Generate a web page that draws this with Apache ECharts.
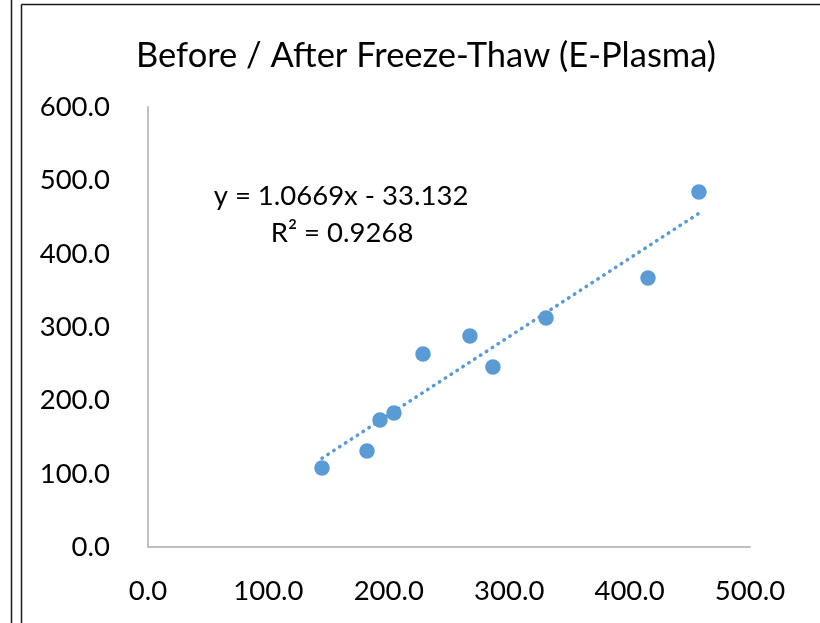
<!DOCTYPE html>
<html>
<head>
<meta charset="utf-8">
<script src="https://cdn.jsdelivr.net/npm/echarts@6/dist/echarts.min.js"></script>
<style>
html,body{margin:0;padding:0;background:#fff;}
#chart{width:820px;height:623px;}
</style>
</head>
<body>
<div id="chart"></div>
<script>
// Data
const titleText = 'Before / After Freeze-Thaw (E-Plasma)';
const beforeValues = [144.5, 181.9, 192.7, 204.3, 228.4, 267.4, 286.5, 330.6, 415.3, 457.6];
const afterValues  = [107.7, 130.9, 173.2, 182.7, 263.2, 287.7, 245.5, 312.3, 366.8, 484.1];
const trendSlope = 1.0669;
const trendIntercept = -33.132;
const equationLabel = 'y = 1.0669x - 33.132';
const r2Label = 'R² = 0.9268';
const xTicks = [0, 100, 200, 300, 400, 500];
const yTicks = [0, 100, 200, 300, 400, 500, 600];

const points = beforeValues.map((x, i) => [x, afterValues[i]]);
const xMin = Math.min(...beforeValues), xMax = Math.max(...beforeValues);
const trendPoints = [xMin, xMax].map(x => [x, trendSlope * x + trendIntercept]);

const FONT = 'Lato, "Open Sans", sans-serif';
const chart = echarts.init(document.getElementById('chart'), null, {renderer: 'canvas'});
chart.setOption({
  animation: false,
  backgroundColor: '#ffffff',
  title: {
    text: titleText,
    left: 421,
    top: 33,
    textAlign: 'center',
    textStyle: {fontFamily: FONT, fontSize: 34.5, fontWeight: 'normal', color: '#000'}
  },
  grid: {left: 148, top: 107, width: 602, height: 440, containLabel: false},
  xAxis: {
    type: 'value',
    min: xTicks[0], max: xTicks[xTicks.length - 1], interval: 100,
    splitLine: {show: false},
    axisTick: {show: false},
    axisLine: {show: true, onZero: false, lineStyle: {color: '#c0c0c0', width: 2}},
    axisLabel: {fontFamily: FONT, fontSize: 27.5, color: '#000', margin: 30,
      formatter: v => v.toFixed(1)}
  },
  yAxis: {
    type: 'value',
    min: yTicks[0], max: yTicks[yTicks.length - 1], interval: 100,
    splitLine: {show: false},
    axisTick: {show: false},
    axisLine: {show: true, onZero: false, lineStyle: {color: '#c0c0c0', width: 2}},
    axisLabel: {fontFamily: FONT, fontSize: 27.5, color: '#000', margin: 38,
      formatter: v => v.toFixed(1)}
  },
  graphic: [
    {type: 'line', shape: {x1: 11.5, y1: 0, x2: 11.5, y2: 623}, style: {stroke: '#1a1a1a', lineWidth: 1.5}},
    {type: 'line', shape: {x1: 21.5, y1: 4.5, x2: 21.5, y2: 623}, style: {stroke: '#1a1a1a', lineWidth: 1.5}},
    {type: 'line', shape: {x1: 21.5, y1: 4.5, x2: 820, y2: 4.5}, style: {stroke: '#1a1a1a', lineWidth: 1.5}},
    {type: 'text', x: 341, y: 196,
      style: {text: equationLabel, fontFamily: FONT, fontSize: 27.5, fill: '#000', align: 'center', verticalAlign: 'middle'}},
    {type: 'text', x: 342, y: 233,
      style: {text: r2Label, fontFamily: FONT, fontSize: 27.5, fill: '#000', align: 'center', verticalAlign: 'middle'}}
  ],
  series: [
    {
      type: 'scatter',
      data: points,
      symbol: 'circle',
      symbolSize: 15.5,
      itemStyle: {color: '#5b9bd5', opacity: 1},
      z: 2
    },
    {
      type: 'line',
      data: trendPoints,
      symbol: 'none',
      lineStyle: {color: '#5b9bd5', width: 3.5, type: [0.5, 6.5], cap: 'round'},
      z: 3
    }
  ]
});
</script>
</body>
</html>
